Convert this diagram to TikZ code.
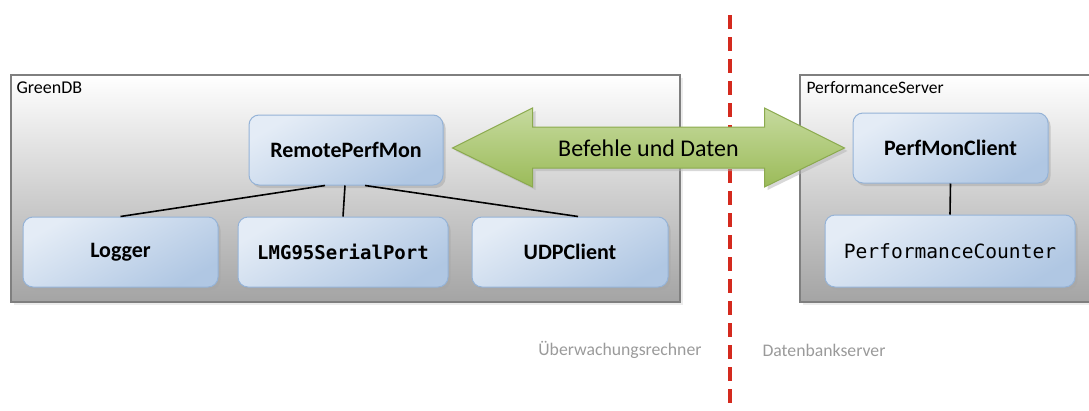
\documentclass[tikz,border=0pt]{standalone}
\usepackage{fontspec}
\setmainfont{Carlito}
\newfontfamily\monofont{DejaVu Sans Mono}
\usetikzlibrary{shadows,calc}
\definecolor{nodeborder}{HTML}{95B3D7}
\definecolor{nodelight}{HTML}{E4ECF6}
\definecolor{nodedark}{HTML}{B0C7E3}
\definecolor{arrowlight}{HTML}{C6DA9E}
\definecolor{arrowdark}{HTML}{9BBB59}
\definecolor{arrowborder}{HTML}{8BAA4E}
\definecolor{boxborder}{HTML}{7F7F7F}
\definecolor{boxbottom}{HTML}{A4A4A4}
\definecolor{divider}{HTML}{D42A1E}
\definecolor{labelgray}{HTML}{9A9A9A}
\begin{document}
\begin{tikzpicture}[x=1pt,y=-1pt,
  container/.style={draw=boxborder,line width=2.5pt,top color=white,bottom color=boxbottom,
    drop shadow={shadow xshift=3pt,shadow yshift=-3pt,fill=black!15}},
  boxlabel/.style={anchor=west,text=black},
  comp/.style={draw=nodeborder,line width=1pt,rounded corners=10pt,
    top color=nodelight,bottom color=nodedark,shading angle=30,
    minimum height=70pt,align=center,inner sep=0pt,
    drop shadow={shadow xshift=2.5pt,shadow yshift=-3pt,fill=black!35}},
  sanslbl/.style={font=\fontsize{22}{24}\selectfont\bfseries},
  monobold/.style={font=\fontsize{19}{21}\selectfont\monofont\bfseries},
  monoreg/.style={font=\fontsize{19.6}{21}\selectfont\monofont},
  link/.style={draw=black,line width=1.6pt},
  bigarrow/.style={draw=arrowborder,line width=1pt,top color=arrowlight,bottom color=arrowdark,
    drop shadow={shadow xshift=3pt,shadow yshift=-3pt,fill=black!30}},
  sidelabel/.style={font=\fontsize{17.7}{19}\selectfont,text=labelgray}
]
\useasboundingbox (0,0) rectangle (1089,410);

% containers
\node[container,minimum width=669pt,minimum height=227pt,inner sep=0pt] (greendb) at (345.5,188.5) {};
\node[container,minimum width=310pt,minimum height=227pt,inner sep=0pt] (perfserver) at (955,188.5) {};
\node[boxlabel,font=\fontsize{18}{20}\selectfont] (greendblbl) at (13,88) {GreenDB};
\node[boxlabel,font=\fontsize{17.5}{20}\selectfont] (perfserverlbl) at (803,88) {PerformanceServer};

% divider
\coordinate (divtop) at (730,15);
\coordinate (divbot) at (730,412);
\draw[divider,line width=4pt,dash pattern=on 14pt off 8pt] (divtop) -- (divbot);

% components
\node[comp,minimum width=194pt,sanslbl] (rpm) at (346,150) {RemotePerfMon};
\node[comp,minimum width=195pt,sanslbl] (logger) at (120.5,252) {Logger};
\node[comp,minimum width=210pt,monobold] (lmg) at (343,252) {LMG95SerialPort};
\node[comp,minimum width=196pt,sanslbl] (udp) at (570,252) {UDPClient};
\node[comp,minimum width=195pt,sanslbl] (pmc) at (950.5,148) {PerfMonClient};
\node[comp,minimum width=250pt,minimum height=72pt,monoreg] (pc) at (950,251) {PerformanceCounter};

% links
\draw[link] ($(rpm.south)+(-21,0)$) -- (logger.north);
\draw[link] ($(rpm.south)+(-1,0)$) -- (lmg.north);
\draw[link] ($(rpm.south)+(19,0)$) -- ($(udp.north)+(8,0)$);
\draw[link] (pmc.south) -- (pc.north);

% big double arrow
\coordinate (aL) at ($(rpm.east)+(9,-2)$);
\coordinate (aR) at ($(pmc.west)+(-8,0)$);
\path[bigarrow] (aL) -- ++(80,-40) -- ++(0,19) -- ($(aR)+(-80,-21)$) -- ++(0,-19) -- (aR)
  -- ++(-80,39) -- ++(0,-19) -- ($(aL)+(80,20)$) -- ++(0,19) -- cycle;
\node[font=\fontsize{24}{26}\selectfont,text=black] (arrowlbl) at ($(aL)!0.5!(aR)$) {Befehle und Daten};

% side labels
\node[sidelabel,anchor=east] (leftlbl) at (705,350) {Überwachungsrechner};
\node[sidelabel,anchor=west] (rightlbl) at (759,350) {Datenbankserver};
\end{tikzpicture}
\end{document}
